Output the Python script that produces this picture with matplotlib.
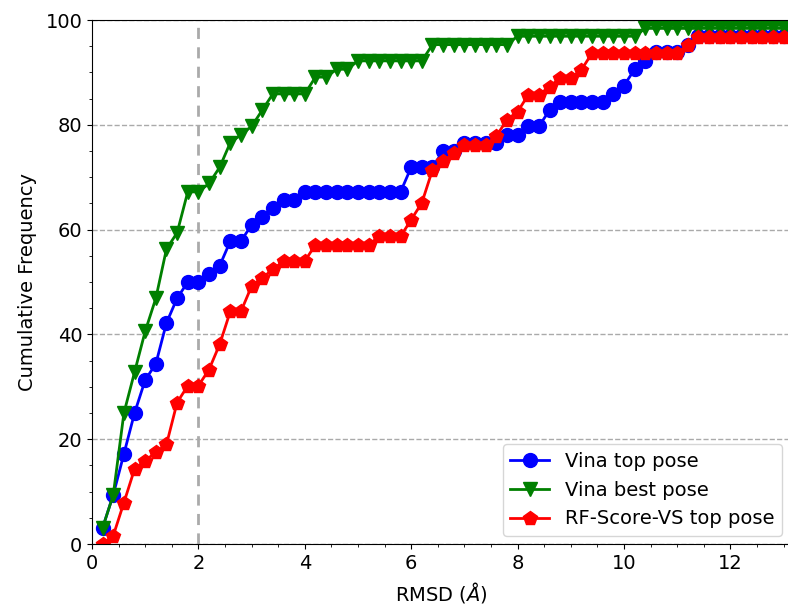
import numpy as np
import matplotlib
matplotlib.use('Agg')
import matplotlib.pyplot as plt
from matplotlib.ticker import MultipleLocator

# RMSD thresholds (0.2 .. 13.0 step 0.2)
rmsd = np.round(np.arange(1, 66) * 0.2, 1)

vina_top = [3.1, 9.4, 17.2, 25.0, 31.3, 34.4, 42.2, 46.9, 50.0, 50.0,
            51.6, 53.1, 57.8, 57.8, 60.9, 62.5, 64.1, 65.6, 65.6, 67.2,
            67.2, 67.2, 67.2, 67.2, 67.2, 67.2, 67.2, 67.2, 67.2, 71.9,
            71.9, 71.9, 75.0, 75.0, 76.6, 76.6, 76.6, 76.6, 78.1, 78.1,
            79.7, 79.7, 82.8, 84.4, 84.4, 84.4, 84.4, 84.4, 85.9, 87.5,
            90.6, 92.2, 93.8, 93.8, 93.8, 95.3, 96.9, 96.9, 96.9, 96.9,
            96.9, 96.9, 96.9, 96.9, 96.9]

vina_best = [3.1, 9.4, 25.0, 32.8, 40.6, 46.9, 56.3, 59.4, 67.2, 67.2,
             68.8, 71.9, 76.6, 78.1, 79.7, 82.8, 85.9, 85.9, 85.9, 85.9,
             89.1, 89.1, 90.6, 90.6, 92.2, 92.2, 92.2, 92.2, 92.2, 92.2,
             92.2, 95.3, 95.3, 95.3, 95.3, 95.3, 95.3, 95.3, 95.3, 96.9,
             96.9, 96.9, 96.9, 96.9, 96.9, 96.9, 96.9, 96.9, 96.9, 96.9,
             96.9, 98.4, 98.4, 98.4, 98.4, 98.4, 98.4, 98.4, 98.4, 98.4,
             98.4, 98.4, 98.4, 98.4, 98.4]

rfscore_top = [0.0, 1.6, 7.9, 14.3, 15.9, 17.5, 19.0, 27.0, 30.2, 30.2,
               33.3, 38.1, 44.4, 44.4, 49.2, 50.8, 52.4, 54.0, 54.0, 54.0,
               57.1, 57.1, 57.1, 57.1, 57.1, 57.1, 58.7, 58.7, 58.7, 61.9,
               65.1, 71.4, 73.0, 74.6, 76.2, 76.2, 76.2, 77.8, 81.0, 82.5,
               85.7, 85.7, 87.3, 88.9, 88.9, 90.5, 93.7, 93.7, 93.7, 93.7,
               93.7, 93.7, 93.7, 93.7, 93.7, 95.2, 96.8, 96.8, 96.8, 96.8,
               96.8, 96.8, 96.8, 96.8, 96.8]

plt.rcParams['font.family'] = ['DejaVu Sans']

fig = plt.figure(figsize=(7.88, 6.04), dpi=100)
ax = fig.add_axes([92 / 788, 60 / 604, 698 / 788, 524 / 604])

ax.plot(rmsd, vina_top, '-o', color='b', lw=2, ms=10, label='Vina top pose')
ax.plot(rmsd, vina_best, '-v', color='g', lw=2, ms=10, label='Vina best pose')
ax.plot(rmsd, rfscore_top, '-p', color='r', lw=2, ms=10, label='RF-Score-VS top pose')

ax.axvline(2, color='#aaaaaa', lw=2, ls='--', dashes=(4, 3), zorder=0)
ax.yaxis.grid(True, ls='--', color='#aaaaaa', lw=1)
ax.set_axisbelow(True)

ax.set_xlim(0, 13.12)
ax.set_ylim(0, 100)
ax.xaxis.set_major_locator(MultipleLocator(2))
ax.xaxis.set_minor_locator(MultipleLocator(0.5))
ax.yaxis.set_major_locator(MultipleLocator(20))
ax.yaxis.set_minor_locator(MultipleLocator(5))
ax.tick_params(labelsize=14)

ax.set_xlabel(r'RMSD ($\AA$)', fontsize=14, labelpad=5)
ax.set_ylabel('Cumulative Frequency', fontsize=14, labelpad=6)
ax.legend(loc='lower right', fontsize=14, borderaxespad=0.4)

fig.savefig('out.png', dpi=100)
